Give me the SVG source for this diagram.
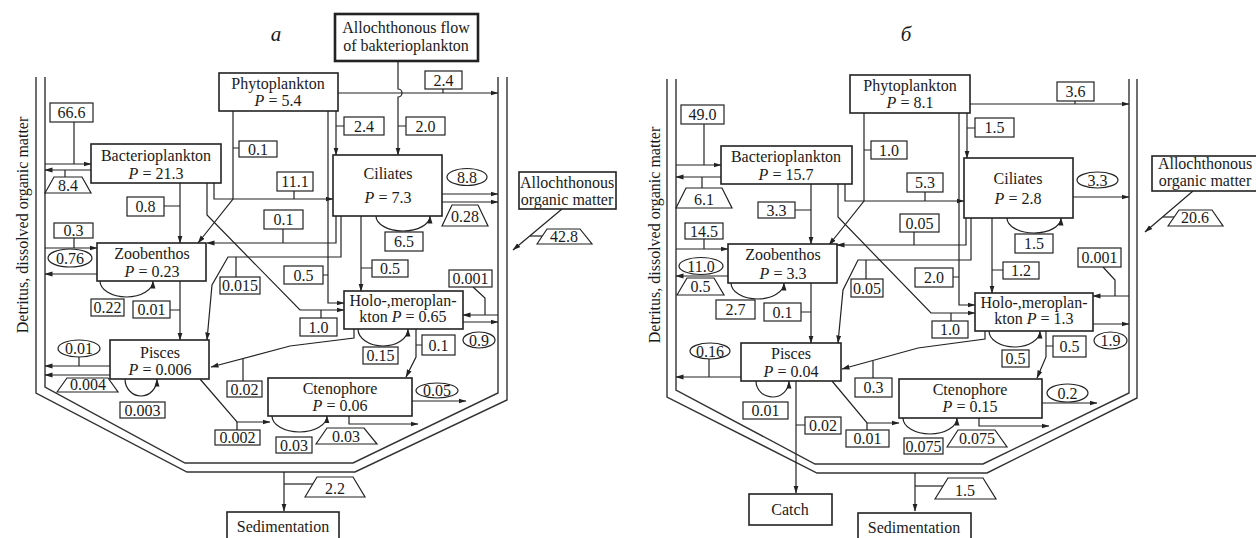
<svg xmlns="http://www.w3.org/2000/svg" width="1256" height="538" viewBox="0 0 1256 538" font-family="'Liberation Serif', 'DejaVu Serif', serif">
<defs>
<marker id="ah" markerWidth="8" markerHeight="6" refX="7.5" refY="3" orient="auto" markerUnits="userSpaceOnUse"><path d="M0,0.5 L8,3 L0,5.5 z" fill="#222"/></marker>
<style>
.box{fill:#fff;stroke:#222;stroke-width:1.6}
.bold{fill:#fff;stroke:#222;stroke-width:2.6}
.lbl{fill:#fff;stroke:#222;stroke-width:1.2}
.ln{fill:none;stroke:#222;stroke-width:1.2}
.arr{marker-end:url(#ah)}
.wall{fill:none;stroke:#333;stroke-width:1.4}
text{font-family:'Liberation Serif','DejaVu Serif',serif;font-size:16px;fill:#1a1a1a;text-anchor:middle}
.it{font-style:italic}
.ttl{font-size:21px;font-style:italic}
</style>
</defs>
<rect width="1256" height="538" fill="#fff"/>

<!-- ================= PANEL A ================= -->
<g id="a-title"><text class="ttl" x="276" y="41">a</text></g>
<g id="a-container">
<polyline class="wall" points="36,77 36,393 187,472 355,472 507,400 507,77"/>
<polyline class="wall" points="45,77 45,387 185,463 353,463 498,393 498,77"/>
<text transform="translate(28,225) rotate(-90)">Detritus, dissolved organic matter</text>
</g>

<g id="a-connectors">
<path class="ln arr" d="M338,93 H498"/>
<path class="ln arr" d="M398,61 V89 A4,4 0 0 1 398,97 V155"/>
<path class="ln arr" d="M336,111 V155"/>
<path class="ln arr" d="M328,111 V303 H344"/>
<path class="ln arr" d="M233,111 V199 L198,243"/>
<path class="ln arr" d="M214,183 V199 H333"/>
<path class="ln arr" d="M180,183 V243"/>
<path class="ln arr" d="M207,183 V215 L300,310 H344"/>
<path class="ln arr" d="M336,216 V243 H207"/>
<path class="ln arr" d="M341,216 V257 H228 L212,285 L207,340"/>
<path class="ln arr" d="M361,216 V291"/>
<path class="ln arr" d="M376,216 A27,15 0 0 0 430,216"/>
<path class="ln arr" d="M442,194 H498"/>
<path class="ln arr" d="M442,202 H498"/>
<path class="ln arr" d="M562,209 L513,250"/>
<path class="ln" d="M530,236 H542"/>
<path class="ln arr" d="M45,164 H91"/>
<path class="ln" d="M74,122 V164"/>
<path class="ln arr" d="M91,170 H45"/>
<path class="ln" d="M65,170 V177"/>
<path class="ln arr" d="M45,248 H97"/>
<path class="ln" d="M74,238 V248"/>
<path class="ln arr" d="M97,274 H45"/>
<path class="ln arr" d="M100,281 A26.5,16 0 0 0 153,281"/>
<path class="ln arr" d="M180,281 V340"/>
<path class="ln arr" d="M110,366 H45"/>
<path class="ln" d="M79,357 V366"/>
<path class="ln arr" d="M110,375 H45"/>
<path class="ln arr" d="M125,379 A16,17 0 0 0 157,379"/>
<path class="ln arr" d="M200,379 L237,422 H270"/>
<path class="ln arr" d="M354,329 V338 L290,346 L211,367"/>
<path class="ln" d="M243,359 V381"/>
<path class="ln arr" d="M498,315 H463"/>
<path class="ln" d="M473,287 L485,298 V315"/>
<path class="ln arr" d="M463,322 H498"/>
<path class="ln arr" d="M358,329 A25,17 0 0 0 408,329"/>
<path class="ln arr" d="M416,329 V357 L406,377"/>
<path class="ln arr" d="M412,401 H466"/>
<path class="ln arr" d="M349,416 V424 H418"/>
<path class="ln arr" d="M272,416 A27.5,16 0 0 0 327,416"/>
<path class="ln arr" d="M284,472 V511"/>
<path class="ln" d="M284,484 H313"/>
<path class="ln" d="M443,89 V93 M398,126 H406 M336,126 H344 M323,275 H328 M233,148 H239 M294,191 V199 M164,206 H180 M321,310 V318 M283,229 V243 M236,257 V277 M361,268 H372 M416,345 H422 M170,310 H180 M237,422 V430"/>
</g>

<g id="a-phytoplankton"><rect class="box" x="219" y="73" width="119" height="38"/><text x="278" y="89">Phytoplankton</text><text x="278" y="106"><tspan class="it">P</tspan> = 5.4</text></g>
<g id="a-alloflow"><rect class="bold" x="335" y="14" width="143" height="47"/><text x="406" y="33">Allochthonous flow</text><text x="406" y="51">of bakterioplankton</text></g>
<g id="a-bacterioplankton"><rect class="box" x="91" y="144" width="130" height="39"/><text x="156" y="161">Bacterioplankton</text><text x="156" y="179"><tspan class="it">P</tspan> = 21.3</text></g>
<g id="a-ciliates"><rect class="box" x="333" y="155" width="109" height="61"/><text x="388" y="179">Ciliates</text><text x="388" y="203"><tspan class="it">P</tspan> = 7.3</text></g>
<g id="a-allo-organic"><rect class="box" x="519" y="172" width="97" height="37"/><text x="567" y="188">Allochthonous</text><text x="567" y="205">organic matter</text></g>
<g id="a-zoobenthos"><rect class="box" x="97" y="243" width="109" height="38"/><text x="152" y="259">Zoobenthos</text><text x="152" y="277"><tspan class="it">P</tspan> = 0.23</text></g>
<g id="a-holo"><rect class="box" x="344" y="291" width="119" height="38"/><text x="403" y="306">Holo-,meroplan-</text><text x="403" y="322">kton <tspan class="it">P</tspan> = 0.65</text></g>
<g id="a-pisces"><rect class="box" x="110" y="340" width="99" height="39"/><text x="160" y="358">Pisces</text><text x="160" y="375"><tspan class="it">P</tspan> = 0.006</text></g>
<g id="a-ctenophore"><rect class="box" x="268" y="378" width="144" height="38"/><text x="340" y="394">Ctenophore</text><text x="340" y="411"><tspan class="it">P</tspan> = 0.06</text></g>
<g id="a-sedimentation"><rect class="box" x="227" y="512" width="112" height="32"/><text x="283" y="532">Sedimentation</text></g>

<g id="a-labels">
<rect class="lbl" x="50" y="103" width="43" height="19"/><text x="71.5" y="118">66.6</text>
<rect class="lbl" x="54" y="223" width="39" height="15"/><text x="73.5" y="236">0.3</text>
<rect class="lbl" x="239" y="141" width="38" height="16"/><text x="258" y="154.5">0.1</text>
<rect class="lbl" x="277" y="172" width="36" height="19"/><text x="295" y="187">11.1</text>
<rect class="lbl" x="127" y="197" width="37" height="19"/><text x="145.5" y="212">0.8</text>
<rect class="lbl" x="264" y="210" width="39" height="19"/><text x="283.5" y="225">0.1</text>
<rect class="lbl" x="220" y="277" width="40" height="17"/><text x="240" y="291">0.015</text>
<rect class="lbl" x="284" y="266" width="39" height="18"/><text x="303.5" y="280.5">0.5</text>
<rect class="lbl" x="300" y="318" width="37" height="18"/><text x="318.5" y="332.5">1.0</text>
<rect class="lbl" x="425" y="71" width="37" height="18"/><text x="443.5" y="85.5">2.4</text>
<rect class="lbl" x="344" y="117" width="40" height="18"/><text x="364" y="131.5">2.4</text>
<rect class="lbl" x="406" y="117" width="39" height="18"/><text x="425.5" y="131.5">2.0</text>
<rect class="lbl" x="385" y="232" width="38" height="19"/><text x="404" y="247">6.5</text>
<rect class="lbl" x="372" y="260" width="36" height="17"/><text x="390" y="274">0.5</text>
<rect class="lbl" x="449" y="270" width="43" height="17"/><text x="470.5" y="284">0.001</text>
<rect class="lbl" x="363" y="347" width="35" height="17"/><text x="380.5" y="361">0.15</text>
<rect class="lbl" x="422" y="335" width="33" height="20"/><text x="438.5" y="350.5">0.1</text>
<rect class="lbl" x="91" y="299" width="33" height="17"/><text x="107.5" y="313">0.22</text>
<rect class="lbl" x="133" y="301" width="37" height="17"/><text x="151.5" y="315">0.01</text>
<rect class="lbl" x="120" y="402" width="45" height="16"/><text x="142.5" y="415.5">0.003</text>
<rect class="lbl" x="227" y="381" width="35" height="16"/><text x="244.5" y="394.5">0.02</text>
<rect class="lbl" x="215" y="430" width="45" height="15"/><text x="237.5" y="443">0.002</text>
<rect class="lbl" x="276" y="437" width="36" height="16"/><text x="294" y="450.5">0.03</text>
<ellipse class="lbl" cx="467" cy="177" rx="20" ry="8.5"/><text x="467" y="182.5">8.8</text>
<ellipse class="lbl" cx="70" cy="258" rx="22" ry="9"/><text x="70" y="263.5">0.76</text>
<ellipse class="lbl" cx="79" cy="348.5" rx="21" ry="8.5"/><text x="79" y="354">0.01</text>
<ellipse class="lbl" cx="479" cy="340" rx="16" ry="8"/><text x="479" y="345.5">0.9</text>
<ellipse class="lbl" cx="437" cy="390.5" rx="21" ry="7.5"/><text x="437" y="396">0.05</text>
<polygon class="lbl" points="45,193 54,177 82,177 91,193"/><text x="68" y="191">8.4</text>
<polygon class="lbl" points="442,226 452,205 478,205 488,226"/><text x="465" y="222">0.28</text>
<polygon class="lbl" points="537,244 547,229 580,229 592,244"/><text x="564" y="242">42.8</text>
<polygon class="lbl" points="57,392 67,378 108,378 118,392"/><text x="88" y="390">0.004</text>
<polygon class="lbl" points="316,444 327,428 364,428 377,444"/><text x="346" y="442">0.03</text>
<polygon class="lbl" points="305,497 317,477 353,477 365,497"/><text x="335" y="494">2.2</text>
</g>

<!-- ================= PANEL B ================= -->
<g id="b-title"><text class="ttl" x="906" y="41">б</text></g>
<g id="b-container">
<polyline class="wall" points="667,79 667,397 817,473 987,473 1137,398 1137,79"/>
<polyline class="wall" points="676,79 676,390 815,464 983,464 1129,393 1129,79"/>
<text transform="translate(660,235) rotate(-90)">Detritus, dissolved organic matter</text>
</g>

<g id="b-connectors">
<path class="ln arr" d="M970,104 H1129"/>
<path class="ln arr" d="M967,113 V158"/>
<path class="ln arr" d="M959,113 V305 H975"/>
<path class="ln arr" d="M864,113 V201 L829,245"/>
<path class="ln arr" d="M845,184 V201 H964"/>
<path class="ln arr" d="M811,184 V244"/>
<path class="ln arr" d="M838,184 V217 L931,313 H975"/>
<path class="ln arr" d="M966,218 V245 H837"/>
<path class="ln arr" d="M971,218 V260 H858 L843,290 L838,343"/>
<path class="ln arr" d="M992,218 V293"/>
<path class="ln arr" d="M1007,218 A27,15 0 0 0 1061,218"/>
<path class="ln arr" d="M1073,197 H1129"/>
<path class="ln arr" d="M1193,191 L1145,232"/>
<path class="ln" d="M1163,217 H1174"/>
<path class="ln arr" d="M676,165 H721"/>
<path class="ln" d="M704,124 V165"/>
<path class="ln arr" d="M721,177 H676"/>
<path class="ln" d="M702,177 V188"/>
<path class="ln arr" d="M676,249 H728"/>
<path class="ln" d="M704,239 V249"/>
<path class="ln arr" d="M728,276 H676"/>
<path class="ln arr" d="M731,283 A26.5,16 0 0 0 784,283"/>
<path class="ln arr" d="M811,283 V343"/>
<path class="ln arr" d="M741,377 H676"/>
<path class="ln" d="M709,359 V377"/>
<path class="ln arr" d="M756,381 A16.5,16 0 0 0 789,381"/>
<path class="ln arr" d="M796,381 V493"/>
<path class="ln arr" d="M832,381 L867,423 H899"/>
<path class="ln arr" d="M985,331 V339 L918,348 L842,369"/>
<path class="ln" d="M873,361 V378"/>
<path class="ln arr" d="M1129,296 H1093"/>
<path class="ln" d="M1103,267 L1115,280 V296"/>
<path class="ln arr" d="M1093,324 H1129"/>
<path class="ln arr" d="M989,331 A25.5,16 0 0 0 1040,331"/>
<path class="ln arr" d="M1046,331 V357 L1037,378"/>
<path class="ln arr" d="M1042,403 H1097"/>
<path class="ln arr" d="M979,418 V426 H1049"/>
<path class="ln arr" d="M903,418 A27,16 0 0 0 957,418"/>
<path class="ln arr" d="M915,473 V511"/>
<path class="ln" d="M915,486 H943"/>
<path class="ln" d="M1075,101 V104 M967,128 H975 M953,277 H959 M864,150 H871 M925,192 V201 M795,210 H811 M951,313 V321 M914,232 V245 M866,260 V279 M992,270 H1003 M1046,346 H1053 M801,312 H811 M796,425 H805 M867,423 V430"/>
</g>

<g id="b-phytoplankton"><rect class="box" x="850" y="75" width="120" height="38"/><text x="910" y="91">Phytoplankton</text><text x="910" y="108"><tspan class="it">P</tspan> = 8.1</text></g>
<g id="b-bacterioplankton"><rect class="box" x="721" y="146" width="131" height="38"/><text x="786" y="162">Bacterioplankton</text><text x="786" y="180"><tspan class="it">P</tspan> = 15.7</text></g>
<g id="b-ciliates"><rect class="box" x="964" y="158" width="109" height="60"/><text x="1018" y="184">Ciliates</text><text x="1018" y="204"><tspan class="it">P</tspan> = 2.8</text></g>
<g id="b-allo-organic"><rect class="box" x="1152" y="156" width="110" height="35"/><text x="1205" y="169">Allochthonous</text><text x="1205" y="186">organic matter</text></g>
<g id="b-zoobenthos"><rect class="box" x="728" y="244" width="109" height="39"/><text x="783" y="260">Zoobenthos</text><text x="783" y="279"><tspan class="it">P</tspan> = 3.3</text></g>
<g id="b-holo"><rect class="box" x="975" y="293" width="118" height="38"/><text x="1034" y="308">Holo-,meroplan-</text><text x="1034" y="324">kton <tspan class="it">P</tspan> = 1.3</text></g>
<g id="b-pisces"><rect class="box" x="741" y="343" width="100" height="38"/><text x="791" y="359">Pisces</text><text x="791" y="377"><tspan class="it">P</tspan> = 0.04</text></g>
<g id="b-ctenophore"><rect class="box" x="899" y="379" width="143" height="39"/><text x="970" y="395">Ctenophore</text><text x="970" y="412"><tspan class="it">P</tspan> = 0.15</text></g>
<g id="b-catch"><rect class="box" x="749" y="494" width="83" height="31"/><text x="790" y="515">Catch</text></g>
<g id="b-sedimentation"><rect class="box" x="858" y="513" width="113" height="32"/><text x="914" y="533">Sedimentation</text></g>

<g id="b-labels">
<rect class="lbl" x="681" y="105" width="43" height="19"/><text x="702.5" y="120">49.0</text>
<rect class="lbl" x="685" y="223" width="38" height="16"/><text x="704" y="236.5">14.5</text>
<rect class="lbl" x="758" y="202" width="37" height="16"/><text x="776.5" y="215.5">3.3</text>
<rect class="lbl" x="871" y="141" width="36" height="18"/><text x="889" y="155.5">1.0</text>
<rect class="lbl" x="907" y="173" width="36" height="19"/><text x="925" y="188">5.3</text>
<rect class="lbl" x="900" y="214" width="39" height="18"/><text x="919.5" y="228.5">0.05</text>
<rect class="lbl" x="851" y="279" width="32" height="18"/><text x="867" y="293.5">0.05</text>
<rect class="lbl" x="915" y="268" width="38" height="19"/><text x="934" y="283">2.0</text>
<rect class="lbl" x="932" y="321" width="36" height="17"/><text x="950" y="335">1.0</text>
<rect class="lbl" x="1057" y="82" width="37" height="19"/><text x="1075.5" y="97">3.6</text>
<rect class="lbl" x="975" y="118" width="39" height="19"/><text x="994.5" y="133">1.5</text>
<rect class="lbl" x="1015" y="234" width="38" height="19"/><text x="1034" y="249">1.5</text>
<rect class="lbl" x="1003" y="262" width="36" height="17"/><text x="1021" y="276">1.2</text>
<rect class="lbl" x="1078" y="248" width="43" height="19"/><text x="1099.5" y="263">0.001</text>
<rect class="lbl" x="1002" y="350" width="27" height="17"/><text x="1015.5" y="364">0.5</text>
<rect class="lbl" x="1053" y="336" width="33" height="21"/><text x="1069.5" y="352">0.5</text>
<rect class="lbl" x="716" y="300" width="39" height="19"/><text x="735.5" y="315">2.7</text>
<rect class="lbl" x="764" y="303" width="37" height="18"/><text x="782.5" y="317.5">0.1</text>
<rect class="lbl" x="743" y="402" width="45" height="17"/><text x="765.5" y="416">0.01</text>
<rect class="lbl" x="805" y="417" width="36" height="17"/><text x="823" y="431">0.02</text>
<rect class="lbl" x="855" y="378" width="37" height="19"/><text x="873.5" y="393">0.3</text>
<rect class="lbl" x="846" y="430" width="43" height="17"/><text x="867.5" y="444">0.01</text>
<rect class="lbl" x="904" y="438" width="39" height="16"/><text x="923.5" y="451.5">0.075</text>
<ellipse class="lbl" cx="701" cy="266" rx="22" ry="8.5"/><text x="701" y="271.5">11.0</text>
<ellipse class="lbl" cx="710" cy="351" rx="20" ry="8"/><text x="710" y="356.5">0.16</text>
<ellipse class="lbl" cx="1097.5" cy="180" rx="20.5" ry="8"/><text x="1097.5" y="185.5">3.3</text>
<ellipse class="lbl" cx="1110.5" cy="340.5" rx="16.5" ry="8.5"/><text x="1110.5" y="346">1.9</text>
<ellipse class="lbl" cx="1067.5" cy="393" rx="20.5" ry="9"/><text x="1067.5" y="398.5">0.2</text>
<polygon class="lbl" points="676,208 686,188 722,188 732,208"/><text x="704" y="205">6.1</text>
<polygon class="lbl" points="677,295 687,278 714,278 724,295"/><text x="700.5" y="292">0.5</text>
<polygon class="lbl" points="1168,226 1179,210 1212,210 1223,226"/><text x="1195" y="223">20.6</text>
<polygon class="lbl" points="947,447 958,430 995,430 1007,447"/><text x="977" y="444">0.075</text>
<polygon class="lbl" points="935,499 948,478 983,478 996,499"/><text x="965" y="496">1.5</text>
</g>
</svg>
